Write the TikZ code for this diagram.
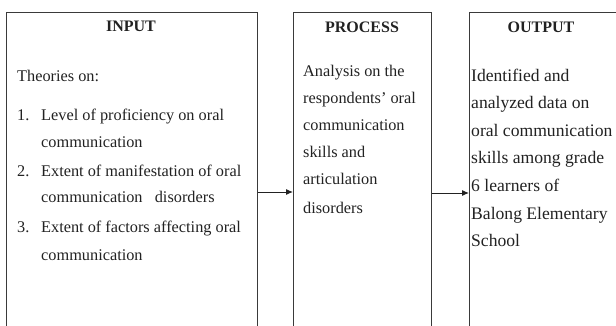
\documentclass[tikz,border=0pt]{standalone}
\usepackage{fontspec}
\setmainfont{Liberation Serif}
\usetikzlibrary{arrows.meta}
\definecolor{ink}{HTML}{222222}
\definecolor{edge}{HTML}{3A3A3A}
\tikzset{
  frame/.style={draw=edge, line width=0.9pt, anchor=north west, inner sep=0pt},
  title/.style={font=\fontsize{16}{16}\selectfont\bfseries, text=ink, anchor=base, inner sep=0pt},
  body/.style={font=\fontsize{16.3}{20}\selectfont, text=ink, anchor=base west, inner sep=0pt},
  obody/.style={font=\fontsize{17.6}{20}\selectfont, text=ink, anchor=base west, inner sep=0pt},
  flow/.style={draw=ink, line width=1pt, -{Latex[length=7pt,width=6pt]}}
}
\begin{document}
\begin{tikzpicture}[x=1pt,y=1pt]
\useasboundingbox (0,0) rectangle (616,-326);
\clip (0,0) rectangle (616,-326);
\fill[white] (0,0) rectangle (616,-326);
% boxes
\node[frame, minimum width=251pt, minimum height=340pt] (inbox) at (6,-12) {};
\node[frame, minimum width=138pt, minimum height=340pt] (procbox) at (293,-12) {};
\node[frame, minimum width=160pt, minimum height=340pt] (outbox) at (469,-12) {};
% titles
\node[title] (intitle) at (131,-32) {INPUT};
\node[title] (proctitle) at (362,-33) {PROCESS};
\node[title] (outtitle) at (541,-33) {OUTPUT};
% input text
\node[body] (theories) at (17,-82) {Theories on:};
\node[body] (n1) at (17,-121) {1.};
\node[body] (i1a) at (41,-121) {Level of proficiency on oral};
\node[body] (i1b) at (41,-148) {communication};
\node[body] (n2) at (17,-177) {2.};
\node[body] (i2a) at (41,-177) {Extent of manifestation of oral};
\node[body] (i2b) at (41,-203) {communication\ \ \ disorders};
\node[body] (n3) at (17,-232) {3.};
\node[body] (i3a) at (41,-232) {Extent of factors affecting oral};
\node[body] (i3b) at (41,-260) {communication};
% process text
\node[body] (p1) at (303,-77) {Analysis on the};
\node[body] (p2) at (303,-104) {respondents’ oral};
\node[body] (p3) at (303,-131) {communication};
\node[body] (p4) at (303,-158) {skills and};
\node[body] (p5) at (303,-185) {articulation};
\node[body] (p6) at (303,-213) {disorders};
% output text
\node[obody] (o1) at (471,-82) {Identified and};
\node[obody] (o2) at (471,-109) {analyzed data on};
\node[obody] (o3) at (471,-137) {oral communication};
\node[obody] (o4) at (471,-164) {skills among grade};
\node[obody] (o5) at (471,-192) {6 learners of};
\node[obody] (o6) at (471,-219) {Balong Elementary};
\node[obody] (o7) at (471,-246) {School};
% arrows
\coordinate (a1) at (0,-192);
\coordinate (a2) at (0,-193);
\draw[flow] (inbox.east |- a1) -- (procbox.west |- a1);
\draw[flow] (procbox.east |- a2) -- (outbox.west |- a2);
\end{tikzpicture}
\end{document}
